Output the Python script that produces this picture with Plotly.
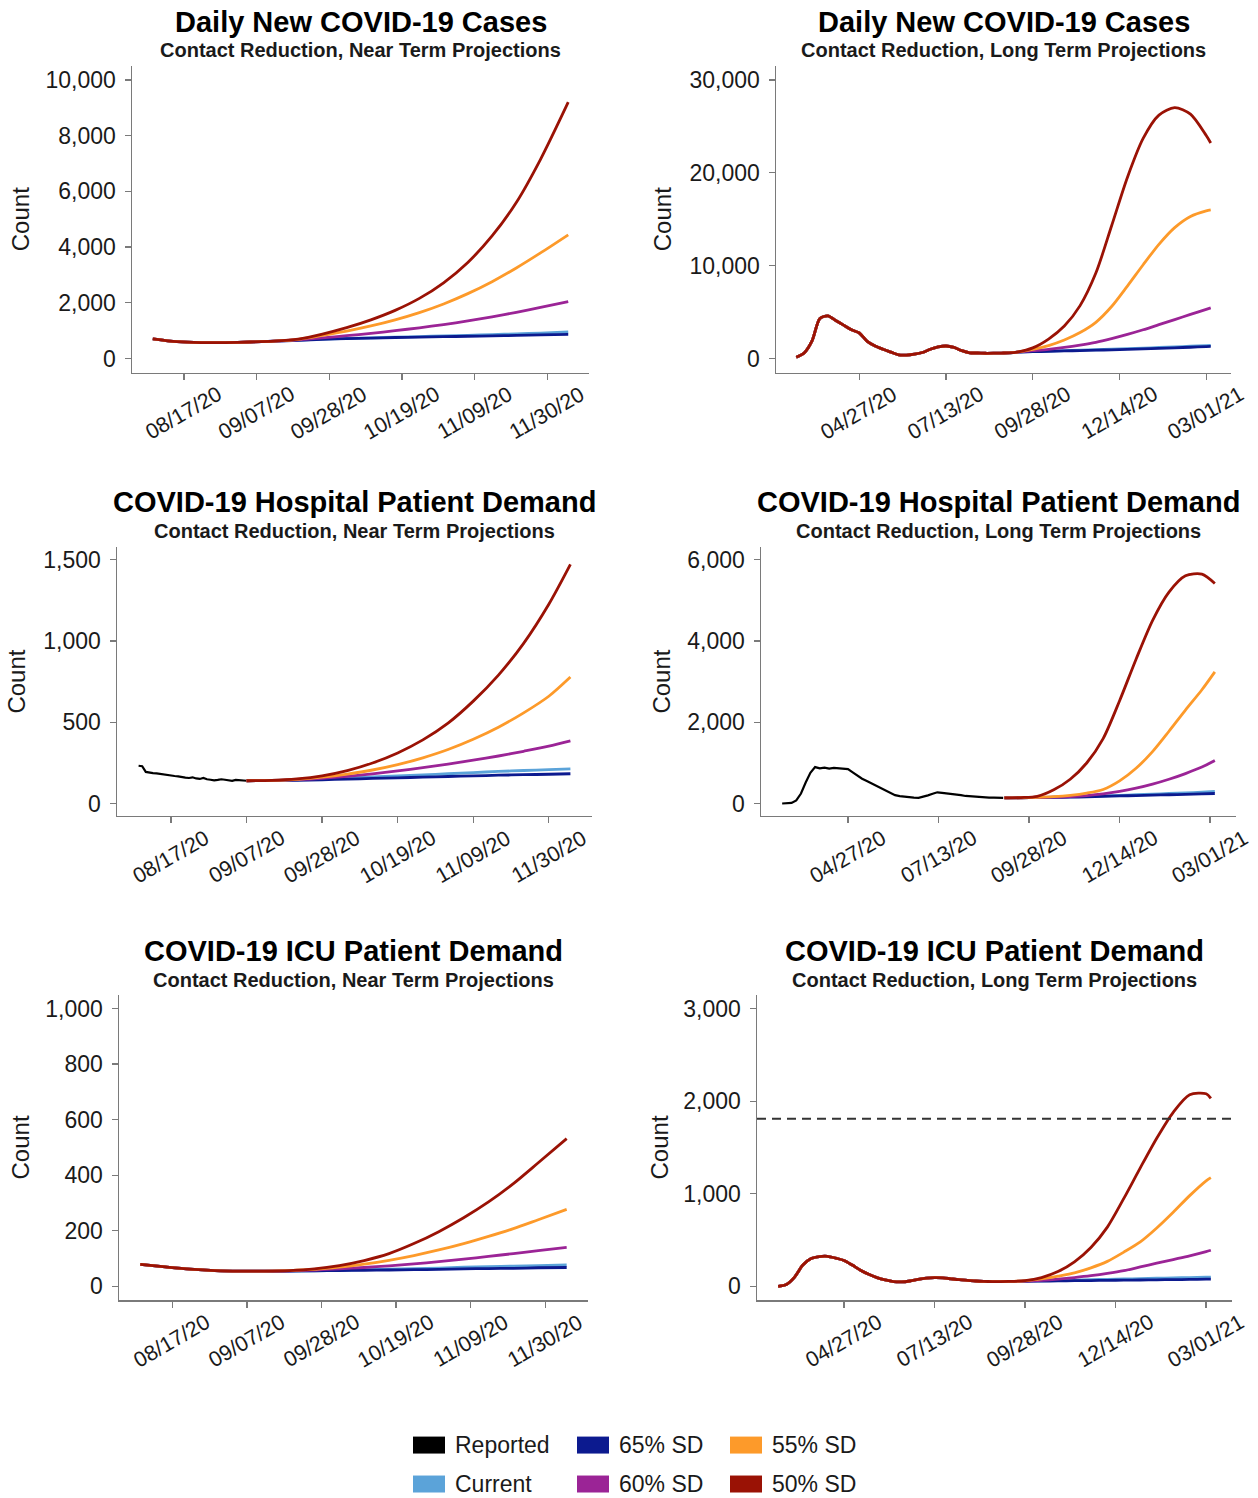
import pandas as pd
import plotly.graph_objects as go

# ------------------------------------------------------------------ data
# near-term grid
near_hist_dates = ["2020-08-08", "2020-08-15", "2020-08-22", "2020-08-29", "2020-09-05"]
near_proj_dates = ["2020-09-12", "2020-09-19", "2020-09-26", "2020-10-03", "2020-10-10",
                   "2020-10-17", "2020-10-24", "2020-10-31", "2020-11-07", "2020-11-14",
                   "2020-11-21", "2020-11-28", "2020-12-06"]

cases_near_hist = [710, 605, 570, 575, 595]
cases_near_50 = [625, 700, 880, 1110, 1390, 1730, 2160, 2720, 3450, 4400, 5600, 7150, 9200]
cases_near_55 = [625, 690, 830, 985, 1170, 1390, 1650, 1960, 2330, 2760, 3250, 3790, 4440]
cases_near_60 = [625, 675, 745, 820, 905, 1000, 1105, 1220, 1350, 1500, 1660, 1840, 2040]
cases_near_65 = [625, 655, 690, 715, 735, 755, 770, 785, 800, 815, 830, 850, 870]
cases_near_cur = [625, 657, 695, 722, 745, 768, 790, 812, 835, 860, 885, 915, 955]

icu_near_hist = [79, 70, 62, 57, 55]
icu_near_50 = [55, 57, 63, 75, 93, 118, 154, 197, 247, 304, 370, 445, 532]
icu_near_55 = [55, 57, 61, 69, 80, 94, 111, 131, 154, 180, 208, 240, 277]
icu_near_60 = [55, 56, 59, 63, 68, 74, 81, 89, 98, 108, 118, 129, 140]
icu_near_65 = [55, 55, 56, 57, 58, 59, 60, 61, 63, 64, 65, 67, 68]
icu_near_cur = [55, 55, 56, 58, 60, 62, 64, 66, 69, 71, 73, 75, 77]

# hospital, near term: reported (daily from 08/08) and projections
hosp_near_reported_start = "2020-08-08"
hosp_near_reported = [233, 230, 195, 190, 188, 186, 182, 178, 175, 172, 170, 168, 163, 160,
                      158, 162, 155, 152, 158, 150, 147, 143, 146, 150, 147, 142, 140, 146,
                      143, 141, 141]
hosp_near_proj_dates = ["2020-09-07", "2020-09-14", "2020-09-21", "2020-09-28", "2020-10-05",
                        "2020-10-12", "2020-10-19", "2020-10-26", "2020-11-02", "2020-11-09",
                        "2020-11-16", "2020-11-23", "2020-11-30", "2020-12-06"]
hosp_near_50 = [141, 143, 152, 171, 203, 250, 312, 392, 495, 630, 790, 985, 1225, 1470]
hosp_near_55 = [141, 143, 150, 163, 182, 207, 240, 282, 333, 396, 470, 558, 660, 778]
hosp_near_60 = [141, 143, 148, 156, 168, 183, 201, 221, 243, 267, 293, 322, 353, 386]
hosp_near_65 = [141, 142, 144, 147, 151, 155, 159, 163, 167, 171, 175, 178, 181, 184]
hosp_near_cur = [141, 143, 147, 152, 158, 164, 170, 177, 184, 191, 198, 204, 209, 214]

# long-term grid
long_hist_dates = ["2020-03-02", "2020-03-09", "2020-03-16", "2020-03-23", "2020-03-30",
                   "2020-04-06", "2020-04-13", "2020-04-20", "2020-04-27", "2020-05-04",
                   "2020-05-11", "2020-05-18", "2020-05-25", "2020-06-01", "2020-06-08",
                   "2020-06-15", "2020-06-22", "2020-06-29", "2020-07-06", "2020-07-13",
                   "2020-07-20", "2020-07-27", "2020-08-03", "2020-08-10", "2020-08-17",
                   "2020-08-24", "2020-08-31", "2020-09-07"]
long_proj_dates = ["2020-09-14", "2020-09-28", "2020-10-12", "2020-10-26", "2020-11-09",
                   "2020-11-23", "2020-12-07", "2020-12-21", "2021-01-04", "2021-01-18",
                   "2021-02-01", "2021-02-15", "2021-03-01", "2021-03-05"]

cases_long_hist = [150, 600, 1900, 4300, 4600, 4100, 3600, 3100, 2750, 1850, 1350, 1000, 700,
                   400, 380, 480, 650, 1000, 1250, 1350, 1200, 850, 620, 600, 570, 575, 595, 610]
cases_long_50 = [700, 1150, 2100, 3500, 5700, 9200, 14300, 19500, 23700, 26200, 27000, 26300, 24000, 23200]
cases_long_55 = [700, 1000, 1400, 2000, 2800, 3900, 5600, 7800, 10100, 12300, 14100, 15300, 15900, 16000]
cases_long_60 = [700, 850, 1000, 1200, 1450, 1750, 2150, 2600, 3100, 3650, 4200, 4750, 5300, 5450]
cases_long_65 = [700, 740, 780, 820, 860, 900, 940, 990, 1040, 1100, 1160, 1220, 1290, 1310]
cases_long_cur = [700, 750, 800, 850, 900, 950, 1000, 1060, 1120, 1190, 1260, 1330, 1400, 1420]

icu_long_hist = [0, 20, 100, 230, 300, 322, 325, 305, 280, 230, 175, 130, 95, 70, 52, 48, 58,
                 75, 88, 95, 92, 82, 72, 65, 58, 54, 52, 52]
icu_long_50 = [53, 62, 95, 160, 265, 420, 640, 950, 1280, 1600, 1880, 2070, 2080, 2030]
icu_long_55 = [53, 60, 80, 110, 145, 200, 270, 370, 480, 630, 800, 980, 1140, 1174]
icu_long_60 = [53, 57, 65, 78, 95, 115, 140, 170, 210, 250, 290, 330, 375, 390]
icu_long_65 = [53, 55, 57, 59, 61, 63, 65, 67, 69, 71, 73, 75, 78, 79]
icu_long_cur = [53, 56, 60, 64, 68, 72, 76, 80, 84, 88, 92, 95, 99, 100]
icu_capacity = 1810

# hospital, long term: reported (every 4 days from 03/02) and projections
hosp_long_reported_start = "2020-03-02"
hosp_long_reported = [5, 5, 20, 80, 250, 520, 760, 900, 870, 885, 860, 880, 875, 865, 850,
                      770, 690, 615, 560, 500, 440, 390, 320, 260, 210, 185, 170, 165, 150,
                      145, 170, 205, 245, 280, 265, 255, 245, 230, 210, 190, 180, 165, 160,
                      155, 150, 148, 145, 142]
hosp_long_proj_dates = ["2020-09-07", "2020-09-21", "2020-10-05", "2020-10-19", "2020-11-02",
                        "2020-11-16", "2020-11-30", "2020-12-14", "2020-12-28", "2021-01-11",
                        "2021-01-25", "2021-02-08", "2021-02-22", "2021-03-05"]
hosp_long_50 = [142, 150, 180, 340, 600, 1000, 1600, 2530, 3550, 4500, 5200, 5600, 5640, 5410]
hosp_long_55 = [142, 146, 155, 172, 205, 260, 350, 560, 870, 1280, 1780, 2300, 2800, 3240]
hosp_long_60 = [142, 145, 150, 160, 175, 200, 240, 300, 380, 480, 600, 740, 900, 1060]
hosp_long_65 = [142, 145, 150, 155, 160, 170, 180, 190, 200, 210, 220, 230, 240, 250]
hosp_long_cur = [142, 146, 152, 160, 170, 180, 192, 205, 220, 235, 250, 265, 285, 300]

# ticks
near_tick_vals = ["2020-08-17", "2020-09-07", "2020-09-28", "2020-10-19", "2020-11-09", "2020-11-30"]
near_tick_text = ["08/17/20", "09/07/20", "09/28/20", "10/19/20", "11/09/20", "11/30/20"]
long_tick_vals = ["2020-04-27", "2020-07-13", "2020-09-28", "2020-12-14", "2021-03-01"]
long_tick_text = ["04/27/20", "07/13/20", "09/28/20", "12/14/20", "03/01/21"]
near_range = ["2020-08-02", "2020-12-12"]
long_range = ["2020-02-13", "2021-03-23"]

series_names = ["Reported", "Current", "65% SD", "60% SD", "55% SD", "50% SD"]
series_colors = ["#000000", "#5ba3d9", "#0c1a8f", "#9b2496", "#fd9a2a", "#9a1205"]
color_of = dict(zip(series_names, series_colors))

titles = ["Daily New COVID-19 Cases", "Daily New COVID-19 Cases",
          "COVID-19 Hospital Patient Demand", "COVID-19 Hospital Patient Demand",
          "COVID-19 ICU Patient Demand", "COVID-19 ICU Patient Demand"]
subtitles = ["Contact Reduction, Near Term Projections", "Contact Reduction, Long Term Projections"] * 3

# ------------------------------------------------------------------ layout geometry (px)
W, H = 1258, 1498
FONT = "Liberation Sans, Arial, sans-serif"
AXIS_GRAY = "#7a7a7a"
TEXT = "#1a1a1a"


def fx(p):
    return p / W


def fy(p):
    return 1 - p / H


panels = [
    dict(x0=132, x1=589, yt=65, yb=372, near=True, yr=[-500, 10500], yt_vals=[0, 2000, 4000, 6000, 8000, 10000], cx=20, ty=21, sy=49),
    dict(x0=776, x1=1231, yt=65, yb=372, near=False, yr=[-1500, 31500], yt_vals=[0, 10000, 20000, 30000], cx=662, ty=21, sy=49),
    dict(x0=117, x1=592, yt=547, yb=816, near=True, yr=[-75, 1575], yt_vals=[0, 500, 1000, 1500], cx=17, ty=502, sy=531),
    dict(x0=761, x1=1236, yt=547, yb=816, near=False, yr=[-300, 6300], yt_vals=[0, 2000, 4000, 6000], cx=662, ty=502, sy=531),
    dict(x0=119, x1=588, yt=995, yb=1301, near=True, yr=[-50, 1050], yt_vals=[0, 200, 400, 600, 800, 1000], cx=20, ty=951, sy=980),
    dict(x0=757, x1=1232, yt=995, yb=1301, near=False, yr=[-150, 3150], yt_vals=[0, 1000, 2000, 3000], cx=659, ty=951, sy=980),
]

# ------------------------------------------------------------------ traces
proj_order = ["Current", "65% SD", "60% SD", "55% SD", "50% SD"]
panel_series = {
    1: (near_hist_dates, cases_near_hist, near_proj_dates,
        [cases_near_cur, cases_near_65, cases_near_60, cases_near_55, cases_near_50]),
    2: (long_hist_dates, cases_long_hist, long_proj_dates,
        [cases_long_cur, cases_long_65, cases_long_60, cases_long_55, cases_long_50]),
    3: ([], [], hosp_near_proj_dates,
        [hosp_near_cur, hosp_near_65, hosp_near_60, hosp_near_55, hosp_near_50]),
    4: ([], [], hosp_long_proj_dates,
        [hosp_long_cur, hosp_long_65, hosp_long_60, hosp_long_55, hosp_long_50]),
    5: (near_hist_dates, icu_near_hist, near_proj_dates,
        [icu_near_cur, icu_near_65, icu_near_60, icu_near_55, icu_near_50]),
    6: (long_hist_dates, icu_long_hist, long_proj_dates,
        [icu_long_cur, icu_long_65, icu_long_60, icu_long_55, icu_long_50]),
}
reported = {
    3: (pd.date_range(hosp_near_reported_start, periods=len(hosp_near_reported), freq="D"), hosp_near_reported),
    4: (pd.date_range(hosp_long_reported_start, periods=len(hosp_long_reported), freq="4D"), hosp_long_reported),
}

fig = go.Figure()


def axid(k, letter):
    return letter if k == 1 else f"{letter}{k}"


for k in range(1, 7):
    xa, ya = axid(k, "x"), axid(k, "y")
    if k in reported:
        rx, ry = reported[k]
        fig.add_trace(go.Scatter(x=rx, y=ry, mode="lines", xaxis=xa, yaxis=ya,
                                 line=dict(color=color_of["Reported"], width=2.2),
                                 showlegend=False, hoverinfo="skip"))
    hd, hv, pd_dates, proj_lists = panel_series[k]
    for name, vals in zip(proj_order, proj_lists):
        fig.add_trace(go.Scatter(x=list(hd) + list(pd_dates), y=list(hv) + list(vals),
                                 mode="lines", xaxis=xa, yaxis=ya,
                                 line=dict(color=color_of[name], width=2.8, shape="spline", smoothing=0.8),
                                 showlegend=False, hoverinfo="skip"))

# ------------------------------------------------------------------ axes & annotations
layout = dict(width=W, height=H, margin=dict(l=0, r=0, t=0, b=0),
              paper_bgcolor="white", plot_bgcolor="white",
              font=dict(family=FONT, color=TEXT), showlegend=False)
annotations = []
shapes = []

for k, p in enumerate(panels, start=1):
    xname = "xaxis" if k == 1 else f"xaxis{k}"
    yname = "yaxis" if k == 1 else f"yaxis{k}"
    tv = near_tick_vals if p["near"] else long_tick_vals
    tt = near_tick_text if p["near"] else long_tick_text
    layout[xname] = dict(domain=[fx(p["x0"]), fx(p["x1"])], anchor=axid(k, "y"), type="date",
                         range=near_range if p["near"] else long_range,
                         tickvals=tv, showticklabels=False, ticks="outside", ticklen=6,
                         tickwidth=1.3, tickcolor=AXIS_GRAY, showline=True, linecolor=AXIS_GRAY,
                         linewidth=1.5, showgrid=False, zeroline=False, fixedrange=True)
    layout[yname] = dict(domain=[fy(p["yb"]), fy(p["yt"])], anchor=axid(k, "x"),
                         range=p["yr"], tickvals=p["yt_vals"], tickformat=",",
                         ticks="outside", ticklen=6, tickwidth=1.3, tickcolor=AXIS_GRAY,
                         showline=True, linecolor=AXIS_GRAY, linewidth=1.5, showgrid=False,
                         zeroline=False, ticklabelstandoff=4,
                         tickfont=dict(size=23, family=FONT, color=TEXT), fixedrange=True)
    # date tick labels (centred under ticks, rotated)
    for v, t in zip(tv, tt):
        annotations.append(dict(x=v, xref=axid(k, "x"), y=fy(p["yb"] + 41), yref="paper",
                                text=t, textangle=-30, showarrow=False,
                                xanchor="center", yanchor="middle",
                                font=dict(size=21.5, family=FONT, color=TEXT)))
    cxm = (p["x0"] + p["x1"]) / 2
    annotations.append(dict(x=fx(cxm), y=fy(p["ty"]), xref="paper", yref="paper",
                            text=f"<b>{titles[k-1]}</b>", showarrow=False,
                            xanchor="center", yanchor="middle",
                            font=dict(size=29, family=FONT, color="#000000")))
    annotations.append(dict(x=fx(cxm), y=fy(p["sy"]), xref="paper", yref="paper",
                            text=f"<b>{subtitles[k-1]}</b>", showarrow=False,
                            xanchor="center", yanchor="middle",
                            font=dict(size=20, family=FONT, color=TEXT)))
    annotations.append(dict(x=fx(p["cx"]), y=fy((p["yt"] + p["yb"]) / 2), xref="paper", yref="paper",
                            text="Count", textangle=-90, showarrow=False,
                            xanchor="center", yanchor="middle",
                            font=dict(size=24, family=FONT, color=TEXT)))

# ICU capacity reference line
shapes.append(dict(type="line", xref="x6 domain", x0=0, x1=1, yref="y6",
                   y0=icu_capacity, y1=icu_capacity,
                   line=dict(color="#333333", width=1.8, dash="9px,6px")))

# legend (manual, 3 columns x 2 rows)
legend_cols = [["Reported", "Current"], ["65% SD", "60% SD"], ["55% SD", "50% SD"]]
col_left = [413, 577, 730]
row_mid = [1446, 1485]
for ci, col in enumerate(legend_cols):
    for ri, name in enumerate(col):
        shapes.append(dict(type="rect", xref="paper", yref="paper",
                           x0=fx(col_left[ci]), x1=fx(col_left[ci] + 32),
                           y0=fy(row_mid[ri] + 8.5), y1=fy(row_mid[ri] - 8.5),
                           fillcolor=color_of[name], line=dict(width=0)))
        annotations.append(dict(x=fx(col_left[ci] + 40), y=fy(row_mid[ri]), xref="paper", yref="paper",
                                text=name, showarrow=False, xanchor="left", yanchor="middle",
                                font=dict(size=23, family=FONT, color=TEXT)))

layout["annotations"] = annotations
layout["shapes"] = shapes
fig.update_layout(**layout)

# remove the default page margin so the figure sits at the window's top-left corner
fig.write_html("out.html",
               config={"displayModeBar": False, "staticPlot": True},
               post_script="document.body.style.margin='0';"
                           "document.body.style.overflow='hidden';"
                           "document.documentElement.style.overflow='hidden';")
